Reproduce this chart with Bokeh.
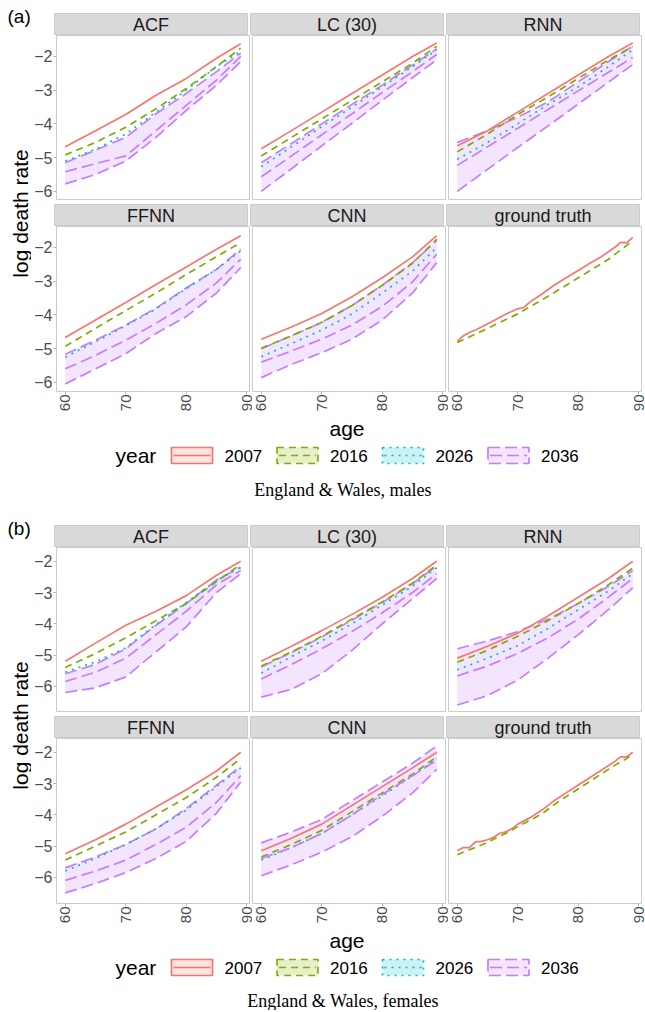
import math
from bokeh.plotting import figure
from bokeh.layouts import column, row
from bokeh.models import Range1d, FixedTicker, CustomJSTickFormatter
from bokeh.embed import file_html
from bokeh.resources import INLINE
from bokeh.core.properties import value

# ------------------------------------------------------------------ data
AGES = [60, 65, 70, 75, 80, 85, 89]
YEARS = ["2007", "2016", "2026", "2036"]
MODELS = ["ACF", "LC (30)", "RNN", "FFNN", "CNN", "ground truth"]
X_TICKS = [60, 70, 80, 90]
Y_TICKS = [-6, -5, -4, -3, -2]

# England & Wales, males  (log death rate at AGES; 2036 with lower/upper band)
M_ACF = {
    "2007": [-4.68, -4.20, -3.72, -3.15, -2.65, -2.05, -1.62],
    "2016": [-4.92, -4.55, -4.10, -3.55, -2.95, -2.30, -1.75],
    "2026": [-5.10, -4.75, -4.30, -3.65, -3.00, -2.30, -1.85],
    "2036": [-5.42, -5.18, -4.95, -4.20, -3.45, -2.70, -2.00],
    "2036_lo": [-5.78, -5.50, -5.10, -4.40, -3.60, -2.85, -2.15],
    "2036_hi": [-5.15, -4.78, -4.40, -3.70, -3.10, -2.45, -1.90],
}
M_LC = {
    "2007": [-4.74, -4.20, -3.65, -3.10, -2.55, -2.00, -1.60],
    "2016": [-4.95, -4.40, -3.85, -3.30, -2.75, -2.20, -1.70],
    "2026": [-5.27, -4.68, -4.08, -3.50, -2.90, -2.30, -1.80],
    "2036": [-5.57, -4.95, -4.32, -3.70, -3.07, -2.45, -1.94],
    "2036_lo": [-6.00, -5.33, -4.65, -3.98, -3.30, -2.63, -2.10],
    "2036_hi": [-5.15, -4.58, -4.00, -3.42, -2.85, -2.25, -1.78],
}
M_RNN = {
    "2007": [-4.65, -4.20, -3.65, -3.10, -2.55, -2.00, -1.60],
    "2016": [-4.83, -4.30, -3.72, -3.20, -2.65, -2.10, -1.70],
    "2026": [-5.05, -4.55, -4.00, -3.42, -2.90, -2.30, -1.80],
    "2036": [-5.23, -4.68, -4.13, -3.57, -3.02, -2.47, -2.03],
    "2036_lo": [-6.00, -5.35, -4.70, -4.06, -3.41, -2.76, -2.24],
    "2036_hi": [-4.55, -4.20, -3.80, -3.35, -2.75, -2.15, -1.70],
}
M_FFNN = {
    "2007": [-4.67, -4.15, -3.63, -3.10, -2.58, -2.05, -1.65],
    "2016": [-4.93, -4.40, -3.87, -3.35, -2.80, -2.27, -1.86],
    "2026": [-5.25, -4.80, -4.32, -3.82, -3.22, -2.65, -2.10],
    "2036": [-5.60, -5.20, -4.75, -4.25, -3.70, -3.05, -2.35],
    "2036_lo": [-6.05, -5.60, -5.15, -4.55, -4.05, -3.35, -2.60],
    "2036_hi": [-5.17, -4.75, -4.30, -3.80, -3.20, -2.65, -2.05],
}
M_CNN = {
    "2007": [-4.72, -4.36, -3.96, -3.46, -2.90, -2.28, -1.65],
    "2016": [-4.99, -4.62, -4.22, -3.72, -3.12, -2.47, -1.75],
    "2026": [-5.24, -4.85, -4.45, -3.97, -3.35, -2.70, -2.00],
    "2036": [-5.40, -5.07, -4.72, -4.30, -3.75, -3.02, -2.20],
    "2036_lo": [-5.86, -5.47, -5.12, -4.72, -4.15, -3.35, -2.45],
    "2036_hi": [-5.00, -4.62, -4.22, -3.72, -3.12, -2.45, -1.80],
}
M_GT_AGES_2007 = [60, 61, 62, 63, 64, 66, 68, 70, 71, 72, 74, 76, 78, 80, 82, 84, 86, 87, 88, 89]
M_GT_2007 = [-4.78, -4.62, -4.52, -4.45, -4.36, -4.17, -3.98, -3.82, -3.78, -3.62,
             -3.38, -3.12, -2.90, -2.68, -2.46, -2.25, -2.00, -1.85, -1.86, -1.70]
M_GT_AGES_2016 = [60, 65, 70, 75, 80, 85, 89]
M_GT_2016 = [-4.82, -4.40, -3.97, -3.45, -2.90, -2.35, -1.80]
M_GT = {"ages_2007": M_GT_AGES_2007, "2007": M_GT_2007,
        "ages_2016": M_GT_AGES_2016, "2016": M_GT_2016}

# England & Wales, females
F_ACF = {
    "2007": [-5.20, -4.62, -4.05, -3.60, -3.10, -2.45, -2.00],
    "2016": [-5.40, -4.95, -4.45, -3.90, -3.35, -2.65, -2.10],
    "2026": [-5.55, -5.22, -4.77, -4.02, -3.32, -2.62, -2.18],
    "2036": [-5.85, -5.55, -5.10, -4.35, -3.60, -2.75, -2.30],
    "2036_lo": [-6.20, -6.05, -5.70, -4.90, -4.10, -3.00, -2.40],
    "2036_hi": [-5.60, -5.30, -4.80, -4.05, -3.35, -2.60, -2.20],
}
F_LC = {
    "2007": [-5.20, -4.72, -4.22, -3.70, -3.15, -2.55, -2.00],
    "2016": [-5.35, -4.90, -4.40, -3.85, -3.30, -2.70, -2.12],
    "2026": [-5.58, -5.05, -4.55, -4.00, -3.40, -2.80, -2.20],
    "2036": [-5.77, -5.30, -4.80, -4.25, -3.65, -3.00, -2.40],
    "2036_lo": [-6.35, -6.10, -5.60, -4.85, -4.00, -3.20, -2.55],
    "2036_hi": [-5.38, -4.92, -4.42, -3.88, -3.32, -2.72, -2.15],
}
F_RNN = {
    "2007": [-5.10, -4.72, -4.30, -3.75, -3.15, -2.55, -2.00],
    "2016": [-5.23, -4.85, -4.40, -3.90, -3.35, -2.75, -2.22],
    "2026": [-5.47, -5.10, -4.70, -4.15, -3.55, -2.95, -2.40],
    "2036": [-5.67, -5.35, -4.95, -4.45, -3.85, -3.15, -2.55],
    "2036_lo": [-6.60, -6.30, -5.80, -5.10, -4.35, -3.55, -2.85],
    "2036_hi": [-4.80, -4.55, -4.25, -3.85, -3.35, -2.80, -2.30],
}
F_FFNN = {
    "2007": [-5.25, -4.80, -4.30, -3.75, -3.20, -2.60, -2.00],
    "2016": [-5.45, -5.00, -4.55, -4.00, -3.45, -2.80, -2.20],
    "2026": [-5.80, -5.40, -4.95, -4.45, -3.85, -3.10, -2.50],
    "2036": [-6.10, -5.80, -5.45, -4.95, -4.40, -3.60, -2.75],
    "2036_lo": [-6.50, -6.20, -5.85, -5.40, -4.85, -3.95, -2.95],
    "2036_hi": [-5.70, -5.35, -4.95, -4.45, -3.80, -3.05, -2.45],
}
F_CNN = {
    "2007": [-5.15, -4.75, -4.30, -3.70, -3.10, -2.50, -2.00],
    "2016": [-5.35, -4.95, -4.50, -3.90, -3.30, -2.70, -2.15],
    "2026": [-5.45, -5.05, -4.60, -4.00, -3.40, -2.75, -2.20],
    "2036": [-5.40, -5.05, -4.60, -4.00, -3.35, -2.75, -2.25],
    "2036_lo": [-5.95, -5.60, -5.20, -4.70, -4.05, -3.30, -2.55],
    "2036_hi": [-4.90, -4.55, -4.15, -3.55, -2.95, -2.35, -1.80],
}
F_GT_AGES_2007 = [60, 61, 62, 63, 64, 65, 66, 67, 68, 69, 70, 72, 74, 76, 78, 80, 82, 84, 86, 87, 88, 89]
F_GT_2007 = [-5.15, -5.05, -5.05, -4.87, -4.85, -4.80, -4.72, -4.60, -4.55, -4.45, -4.30,
             -4.10, -3.85, -3.55, -3.30, -3.05, -2.80, -2.55, -2.30, -2.15, -2.15, -2.00]
F_GT_AGES_2016 = [60, 62, 64, 66, 68, 70, 72, 74, 76, 78, 80, 82, 84, 86, 88, 89]
F_GT_2016 = [-5.28, -5.12, -4.97, -4.78, -4.60, -4.38, -4.18, -3.97, -3.68, -3.42,
             -3.17, -2.92, -2.67, -2.42, -2.20, -2.05]
F_GT = {"ages_2007": F_GT_AGES_2007, "2007": F_GT_2007,
        "ages_2016": F_GT_AGES_2016, "2016": F_GT_2016}

MALES = [M_ACF, M_LC, M_RNN, M_FFNN, M_CNN, M_GT]
FEMALES = [F_ACF, F_LC, F_RNN, F_FFNN, F_CNN, F_GT]

# ------------------------------------------------------------------ style
COLORS = {"2007": "#F8766D", "2016": "#7CAE00", "2026": "#00BFC4", "2036": "#C77CFF"}
DASHES = {"2007": "solid", "2016": "7 5", "2026": "2 5", "2036": "12 5"}
SANS = "Liberation Sans"
SERIF = "Liberation Serif"
LW = 1.7
BORDER = "#CCCCCC"
STRIP_FILL = "#D9D9D9"

PAGE_W = 645
LEFT_W = 31      # area for "(a)" and the y-axis title
YAX = 23         # y-axis (tick labels) width
GAPX = 3
RIGHT_PAD = 6
PW = 193         # panel width
PH = 165         # panel height
SH = 22          # strip height
TOP = 13
GAPY = 4
XB = 25          # x-axis tick label area
GRID_H = TOP + SH + PH + GAPY + SH + PH + XB
LEG_H = 54       # "age" title + legend
PANEL_CX = LEFT_W + YAX + (3 * PW + 2 * GAPX) / 2

KEY_X0 = 171
KEY_PITCH = 105.5
KEY_W = 41
KEY_H = 16
YEAR_X = 115


def base_fig(**kw):
    f = figure(toolbar_location=None, output_backend="svg", **kw)
    f.border_fill_color = "white"
    f.background_fill_color = "white"
    return f


def bare_fig(width, height, xr, yr):
    f = base_fig(width=width, height=height, x_range=xr, y_range=yr,
                 x_axis_location=None, y_axis_location=None,
                 min_border_left=0, min_border_right=0, min_border_top=0, min_border_bottom=0)
    f.grid.visible = False
    f.outline_line_color = None
    return f


def side_borders(col):
    lb = YAX if col == 0 else 0
    rb = GAPX if col < 2 else RIGHT_PAD
    return lb, rb


def strip_fig(name, col, top):
    lb, rb = side_borders(col)
    s = base_fig(frame_width=PW, frame_height=SH, x_range=Range1d(0, 1), y_range=Range1d(0, 1),
                 x_axis_location=None, y_axis_location=None,
                 min_border_left=lb, min_border_right=rb, min_border_top=top, min_border_bottom=0)
    s.grid.visible = False
    s.background_fill_color = STRIP_FILL
    s.outline_line_color = BORDER
    s.text(x=[0.5], y=[0.5], text=[name], text_align="center", text_baseline="middle",
           text_font=value(SANS), text_font_size="18px", text_color="#1A1A1A")
    return s


def panel_fig(d, xr, yr, col, bottom):
    lb, rb = side_borders(col)
    bb = XB if bottom else 0
    p = base_fig(frame_width=PW, frame_height=PH, x_range=xr, y_range=yr,
                 min_border_left=lb, min_border_right=rb, min_border_top=0, min_border_bottom=bb,
                 x_axis_location="below" if bottom else None,
                 y_axis_location="left" if col == 0 else None)
    p.grid.visible = False
    p.outline_line_color = BORDER
    p.outline_line_width = 1
    for ax in p.axis:
        ax.axis_line_color = None
        ax.major_tick_in = 0
        ax.major_tick_out = 3
        ax.major_tick_line_color = "#B3B3B3"
        ax.minor_tick_line_color = None
        ax.major_label_text_font = SANS
        ax.major_label_text_color = "#4D4D4D"
    if bottom:
        p.xaxis.ticker = FixedTicker(ticks=X_TICKS)
        p.xaxis.major_label_orientation = math.pi / 2
        p.xaxis.major_label_text_font_size = "15px"
        p.xaxis.major_label_standoff = 0
    if col == 0:
        p.yaxis.ticker = FixedTicker(ticks=Y_TICKS)
        p.yaxis.major_label_text_font_size = "16px"
        p.yaxis.major_label_standoff = 1
        p.yaxis.formatter = CustomJSTickFormatter(
            code="return tick < 0 ? '\\u2212' + Math.abs(tick) : String(tick);")
    if "2036_lo" in d:
        c = COLORS["2036"]
        p.varea(x=AGES, y1=d["2036_lo"], y2=d["2036_hi"], fill_color=c, fill_alpha=0.2)
        for k in ("2036_lo", "2036_hi"):
            p.line(AGES, d[k], line_color=c, line_width=LW, line_dash=DASHES["2036"])
    for yr_ in YEARS:
        if yr_ in d:
            ages = d.get("ages_" + yr_, AGES)
            p.line(ages, d[yr_], line_color=COLORS[yr_], line_width=LW, line_dash=DASHES[yr_])
    return p


def y_extent(data):
    vals = []
    for d in data:
        for k, v in d.items():
            if not k.startswith("ages"):
                vals.extend(v)
    lo, hi = min(vals), max(vals)
    pad = 0.05 * (hi - lo)
    return lo - pad, hi + pad


def block(tag, data, caption, cap_h, cap_y):
    span = max(AGES) - min(AGES)
    xr = Range1d(min(AGES) - 0.05 * span, max(AGES) + 0.05 * span)
    ylo, yhi = y_extent(data)
    yr = Range1d(ylo, yhi)
    rows = []
    for r in range(2):
        strips, panels = [], []
        for c in range(3):
            i = r * 3 + c
            strips.append(strip_fig(MODELS[i], c, TOP if r == 0 else GAPY))
            panels.append(panel_fig(data[i], xr, yr, c, r == 1))
        rows.append(row(strips, spacing=0))
        rows.append(row(panels, spacing=0))
    grid = column(rows, spacing=0)

    left = bare_fig(LEFT_W, GRID_H, Range1d(0, LEFT_W), Range1d(GRID_H, 0))
    left.text(x=[7], y=[15.5], text=[tag], text_align="left", text_baseline="middle",
              text_font=value(SANS), text_font_size="19px", text_color="black")
    mid = TOP + SH + (PH + GAPY + SH + PH) / 2
    left.text(x=[19.5], y=[mid], text=["log death rate"], angle=math.pi / 2,
              text_align="center", text_baseline="middle",
              text_font=value(SANS), text_font_size="21px", text_color="black")

    leg = bare_fig(PAGE_W, LEG_H, Range1d(0, PAGE_W), Range1d(LEG_H, 0))
    leg.text(x=[PANEL_CX], y=[11.5], text=["age"], text_align="center",
             text_baseline="middle", text_font=value(SANS), text_font_size="21px",
             text_color="black")
    cy = 39
    leg.text(x=[YEAR_X], y=[cy], text=["year"], text_align="left", text_baseline="middle",
             text_font=value(SANS), text_font_size="21px", text_color="black")
    for i, yr_ in enumerate(YEARS):
        x0 = KEY_X0 + i * KEY_PITCH
        c = COLORS[yr_]
        leg.quad(left=[x0], right=[x0 + KEY_W], top=[cy - KEY_H / 2], bottom=[cy + KEY_H / 2],
                 fill_color=c, fill_alpha=0.2, line_color=c, line_width=LW,
                 line_dash=DASHES[yr_])
        leg.segment(x0=[x0 + 2], y0=[cy], x1=[x0 + KEY_W - 2], y1=[cy],
                    line_color=c, line_width=LW, line_dash=DASHES[yr_])
        leg.text(x=[x0 + KEY_W + 12], y=[cy], text=[yr_], text_align="left",
                 text_baseline="middle", text_font=value(SANS), text_font_size="17px",
                 text_color="black")

    cap = bare_fig(PAGE_W, cap_h, Range1d(0, PAGE_W), Range1d(cap_h, 0))
    cap.text(x=[PANEL_CX - 4], y=[cap_y], text=[caption], text_align="center",
             text_baseline="middle", text_font=value(SERIF), text_font_size="18px",
             text_color="black")

    return column(row(left, grid, spacing=0), leg, cap, spacing=0)


page = column(block("(a)", MALES, "England & Wales, males", 42, 19),
              block("(b)", FEMALES, "England & Wales, females", 28, 18),
              spacing=0)

open("out.html", "w").write(file_html(page, INLINE))
